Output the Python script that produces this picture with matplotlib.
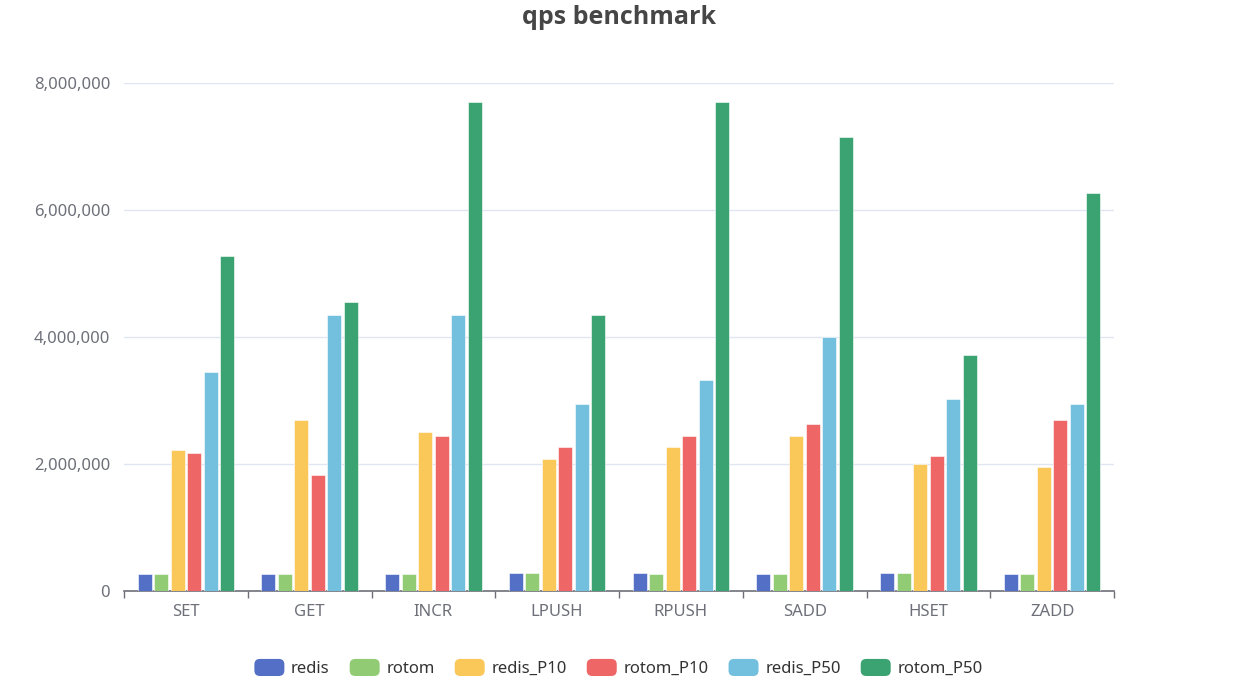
import matplotlib
matplotlib.use("Agg")
import matplotlib.pyplot as plt
from matplotlib.patches import FancyBboxPatch, Patch
from matplotlib.legend_handler import HandlerPatch
from matplotlib.ticker import FuncFormatter
import numpy as np

plt.rcParams['font.family'] = ['Noto Sans', 'DejaVu Sans']

# data
commands = ["SET", "GET", "INCR", "LPUSH", "RPUSH", "SADD", "HSET", "ZADD"]
series = ["redis", "rotom", "redis_P10", "rotom_P10", "redis_P50", "rotom_P50"]
redis = [270000, 270000, 270000, 290000, 285000, 275000, 285000, 275000]
rotom = [270000, 260000, 265000, 280000, 270000, 270000, 280000, 270000]
redis_p10 = [2220000, 2700000, 2500000, 2080000, 2270000, 2440000, 2000000, 1960000]
rotom_p10 = [2170000, 1820000, 2440000, 2270000, 2440000, 2630000, 2130000, 2700000]
redis_p50 = [3450000, 4350000, 4350000, 2940000, 3330000, 4000000, 3030000, 2940000]
rotom_p50 = [5270000, 4550000, 7700000, 4350000, 7700000, 7150000, 3710000, 6260000]
values = [redis, rotom, redis_p10, rotom_p10, redis_p50, rotom_p50]
colors = ["#5470c6", "#91cc75", "#fac858", "#ee6666", "#73c0de", "#3ba272"]

axis_col = "#6E7079"
grid_col = "#E0E6F1"


class RoundHandler(HandlerPatch):
    def create_artists(self, legend, orig_handle, xdescent, ydescent,
                       width, height, fontsize, trans):
        p = FancyBboxPatch((-xdescent, -ydescent), width, height,
                           boxstyle="round,pad=0,rounding_size=4",
                           facecolor=orig_handle.get_facecolor(),
                           edgecolor="none", transform=trans)
        return [p]


fig = plt.figure(figsize=(12.37, 6.87), dpi=100)
ax = fig.add_axes([124 / 1237, 1 - 591 / 687, 990 / 1237, 508 / 687])

x = np.arange(len(commands))
bw = 0.113
step = 0.133
for i, (name, vals, c) in enumerate(zip(series, values, colors)):
    off = (i - 2.5) * step
    ax.bar(x + off, vals, width=bw, color=c, edgecolor="white",
           linewidth=0.4, label=name, zorder=3)

ax.set_xlim(-0.5, len(commands) - 0.5)
ax.set_ylim(0, 8000000)
ax.set_yticks([0, 2000000, 4000000, 6000000, 8000000])
ax.yaxis.set_major_formatter(FuncFormatter(lambda v, p: f"{int(v):,}"))
ax.grid(axis="y", color=grid_col, linewidth=1, zorder=0)

ax.set_xticks(x)
ax.set_xticklabels(commands)
ax.set_xticks(np.arange(-0.5, len(commands)), minor=True)
ax.tick_params(axis="x", which="major", length=0, pad=9,
               labelsize=12, labelcolor=axis_col)
ax.tick_params(axis="x", which="minor", length=5, width=1, color=axis_col)
ax.tick_params(axis="y", length=0, pad=10, labelsize=12, labelcolor=axis_col)

for s in ["top", "right", "left"]:
    ax.spines[s].set_visible(False)
ax.spines["bottom"].set_color(axis_col)
ax.spines["bottom"].set_linewidth(1.2)

fig.text(0.5, 1 - 17 / 687, "qps benchmark", ha="center", va="center",
         fontsize=18, fontweight="bold", color="#464646",
         family=["Open Sans", "Lato", "DejaVu Sans"])

handles = [Patch(facecolor=c, label=n) for n, c in zip(series, colors)]
fig.legend(handles=handles, loc="center", bbox_to_anchor=(0.5, 1 - 668 / 687),
           ncol=6, frameon=False, fontsize=12, labelcolor="#333333",
           handlelength=1.8, handleheight=1.2, handletextpad=0.4,
           columnspacing=1.2, handler_map={Patch: RoundHandler()})

fig.savefig("out.png", dpi=100)
